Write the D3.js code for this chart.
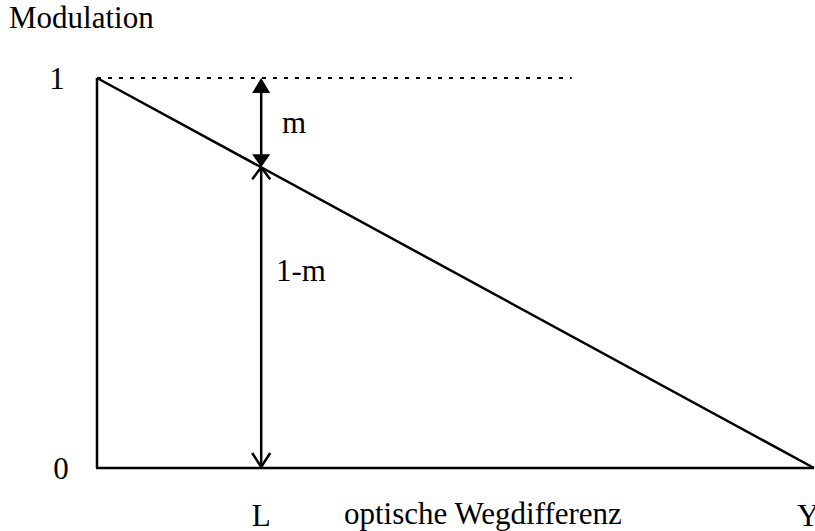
<!DOCTYPE html>
<html>
<head>
<meta charset="utf-8">
<script src="https://cdn.jsdelivr.net/npm/d3@7"></script>
<style>
  body { margin: 0; background: #fff; }
  text { font-family: "Liberation Serif", "Times New Roman", serif; fill: #000; }
</style>
</head>
<body>
<div id="main"></div>
<script>
// values (x as fraction of optical path range, y = modulation)
let linePoints = [[0, 1], [1, 0]]
let refLineEnd = 0.662
let posL = 0.229
let yTicks = [0, 1]
let xLabels = [["L", 0.229], ["Y", 0.992]]

let width = 815
let height = 531
let fs = 31

let svg = d3.select("#main")
            .append("svg")
            .attr("width", width)
            .attr("height", height)

const xScale = d3.scaleLinear().domain([0, 1]).range([97, 814])
const yScale = d3.scaleLinear().domain([0, 1]).range([468, 78])

// axes as plain lines
svg.append("line")
   .attr("x1", xScale(0)).attr("x2", xScale(0))
   .attr("y1", yScale(1)).attr("y2", yScale(0))
   .attr("stroke", "#000").attr("stroke-width", 2.5)
svg.append("line")
   .attr("x1", xScale(0) - 1).attr("x2", xScale(1))
   .attr("y1", yScale(0)).attr("y2", yScale(0))
   .attr("stroke", "#000").attr("stroke-width", 2.5)

// dotted reference at 1
svg.append("line")
   .attr("x1", xScale(0)).attr("x2", xScale(refLineEnd))
   .attr("y1", yScale(1)).attr("y2", yScale(1))
   .attr("stroke", "#000").attr("stroke-width", 2)
   .attr("stroke-dasharray", "4,7")

// modulation line
let line = d3.line().x(d => xScale(d[0])).y(d => yScale(d[1]))
svg.append("path")
   .datum(linePoints)
   .attr("d", line)
   .attr("fill", "none")
   .attr("stroke", "#000")
   .attr("stroke-width", 2.5)

let lineAtL = 1 - posL
let ax = xScale(posL)

// vertical arrow shafts
svg.append("line")
   .attr("x1", ax).attr("x2", ax)
   .attr("y1", yScale(1) + 10).attr("y2", yScale(lineAtL) - 8)
   .attr("stroke", "#000").attr("stroke-width", 2.5)
svg.append("line")
   .attr("x1", ax).attr("x2", ax)
   .attr("y1", yScale(lineAtL)).attr("y2", yScale(0))
   .attr("stroke", "#000").attr("stroke-width", 2.5)

// filled heads for m
let yTop = yScale(1), yMid = yScale(lineAtL)
svg.append("path")
   .attr("d", `M${ax},${yTop} L${ax - 9},${yTop + 15} L${ax + 9},${yTop + 15} Z`)
   .attr("fill", "#000")
svg.append("path")
   .attr("d", `M${ax},${yMid} L${ax - 9},${yMid - 13} L${ax + 9},${yMid - 13} Z`)
   .attr("fill", "#000")

// open heads for 1-m
svg.append("path")
   .attr("d", `M${ax - 9},${yMid + 12} L${ax},${yMid} L${ax + 9},${yMid + 12}`)
   .attr("fill", "none").attr("stroke", "#000").attr("stroke-width", 2.5)
let yBot = yScale(0)
svg.append("path")
   .attr("d", `M${ax - 9},${yBot - 15} L${ax},${yBot - 1} L${ax + 9},${yBot - 15}`)
   .attr("fill", "none").attr("stroke", "#000").attr("stroke-width", 2.5)

// texts
svg.append("text").attr("x", 9).attr("y", 28)
   .attr("font-size", fs).text("Modulation")

svg.selectAll(".ytick")
   .data(yTicks)
   .enter()
   .append("text")
   .attr("class", "ytick")
   .attr("x", d => d ? 57 : 61)
   .attr("y", d => yScale(d) + 11)
   .attr("text-anchor", "middle")
   .attr("font-size", fs)
   .text(d => d)

svg.selectAll(".xlab")
   .data(xLabels)
   .enter()
   .append("text")
   .attr("class", "xlab")
   .attr("x", d => xScale(d[1]))
   .attr("y", 526)
   .attr("text-anchor", "middle")
   .attr("font-size", fs)
   .text(d => d[0])

svg.append("text").attr("x", 344).attr("y", 524)
   .attr("font-size", fs).text("optische Wegdifferenz")

svg.append("text").attr("x", 282).attr("y", 133)
   .attr("font-size", fs).text("m")
svg.append("text").attr("x", 276).attr("y", 281)
   .attr("font-size", fs).text("1-m")
</script>
</body>
</html>
